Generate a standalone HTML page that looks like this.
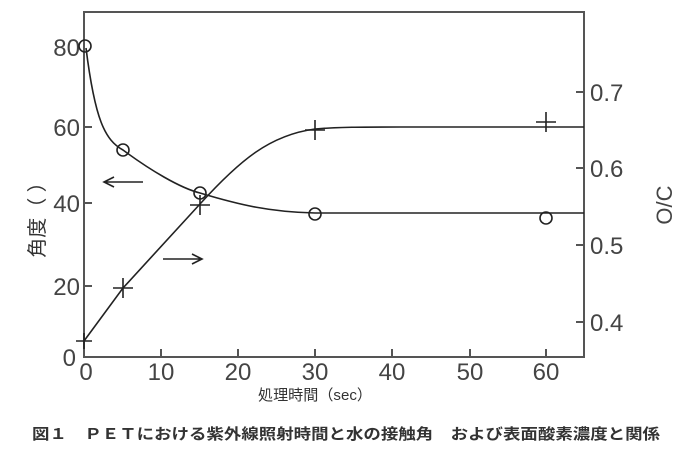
<!DOCTYPE html>
<html><head><style>body{margin:0;background:#fff}</style></head><body>
<svg width="685" height="450" xmlns="http://www.w3.org/2000/svg" font-family="Liberation Sans, Noto Sans CJK JP, sans-serif">
<rect x="84" y="12" width="500" height="345" fill="none" stroke="#555" stroke-width="2"/>
<g stroke="#555" stroke-width="2">
<line x1="84" y1="286" x2="92" y2="286"/><line x1="84" y1="203" x2="92" y2="203"/><line x1="84" y1="127" x2="92" y2="127"/>
<line x1="161" y1="357" x2="161" y2="349"/><line x1="238" y1="357" x2="238" y2="349"/><line x1="315" y1="357" x2="315" y2="349"/><line x1="392" y1="357" x2="392" y2="349"/><line x1="470" y1="357" x2="470" y2="349"/><line x1="546" y1="357" x2="546" y2="349"/>
<line x1="584" y1="92" x2="576" y2="92"/><line x1="584" y1="168" x2="576" y2="168"/><line x1="584" y1="245" x2="576" y2="245"/><line x1="584" y1="322" x2="576" y2="322"/>
</g>
<g font-size="24" fill="#444">
<text x="80" y="56" text-anchor="end">80</text><text x="80" y="136" text-anchor="end">60</text><text x="80" y="212" text-anchor="end">40</text><text x="80" y="295" text-anchor="end">20</text><text x="76" y="366" text-anchor="end">0</text>
<text x="86" y="380" text-anchor="middle">0</text><text x="161" y="380" text-anchor="middle">10</text><text x="238" y="380" text-anchor="middle">20</text><text x="315" y="380" text-anchor="middle">30</text><text x="392" y="380" text-anchor="middle">40</text><text x="470" y="380" text-anchor="middle">50</text><text x="546" y="380" text-anchor="middle">60</text>
<text x="590" y="101">0.7</text><text x="590" y="177">0.6</text><text x="590" y="254">0.5</text><text x="590" y="331">0.4</text>
</g>
<text x="0" y="0" font-size="22" fill="#444" transform="translate(672,205) rotate(-90)" text-anchor="middle">O/C</text>
<text x="0" y="0" font-size="20" fill="#333" transform="translate(44,215) rotate(-90)" text-anchor="middle">角度（ ）</text>
<text x="258" y="400" font-size="15" fill="#333" textLength="114" lengthAdjust="spacingAndGlyphs">処理時間（sec）</text>
<text x="32" y="439" font-size="15" font-weight="bold" fill="#333" textLength="628" lengthAdjust="spacingAndGlyphs">図１　ＰＥＴにおける紫外線照射時間と水の接触角　および表面酸素濃度と関係</text>
<g fill="none" stroke="#222" stroke-width="1.6">
<path d="M86,48 C95,120 105,140 123,150 C150,170 180,188 200,193 C240,205 270,212 315,213 L584,213"/>
<path d="M84,341 L123,288 L200,204 C240,160 270,135 315,129 C340,127 360,127 400,127 L584,127"/>
<circle cx="85" cy="46" r="6"/><circle cx="123" cy="150" r="6"/><circle cx="200" cy="193" r="6"/><circle cx="315" cy="214" r="6"/><circle cx="546" cy="218" r="6"/>
<path d="M76,341h16M84,333v16 M113,288h20M123,278v20 M190,205h20M200,195v20 M305,130h20M315,120v20 M536,122h20M546,112v20"/>
<path d="M143,182H104M114,177L104,182L114,187"/>
<path d="M163,259H202M192,254L202,259L192,264"/>
</g>
</svg>
</body></html>
